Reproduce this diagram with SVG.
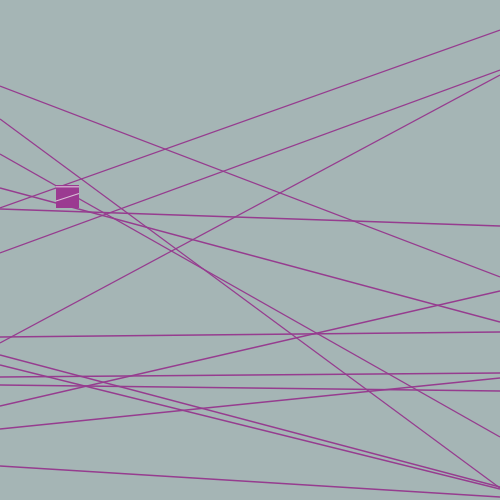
<svg xmlns="http://www.w3.org/2000/svg" width="500" height="500" viewBox="0 0 500 500">
<style>
.l{stroke:#963c8f;stroke-width:1.3;fill:none}
.hl{stroke:#d9bfd7;stroke-width:1.2}
</style>
<rect width="500" height="500" fill="#a5b5b5"/>
<g id="lines">
<line class="l" x1="0" y1="86" x2="500" y2="277"/>
<line class="l" x1="0" y1="119" x2="500" y2="488"/>
<line class="l" x1="0" y1="154" x2="500" y2="437"/>
<line class="l" x1="0" y1="188" x2="500" y2="322"/>
<line class="l" x1="0" y1="208" x2="500" y2="30"/>
<line class="l" x1="0" y1="209" x2="500" y2="226"/>
<line class="l" x1="0" y1="253" x2="500" y2="70"/>
<line class="l" x1="0" y1="343" x2="500" y2="75"/>
<line class="l" x1="0" y1="337" x2="500" y2="332"/>
<line class="l" x1="0" y1="355" x2="500" y2="487"/>
<line class="l" x1="0" y1="365" x2="500" y2="489"/>
<line class="l" x1="0" y1="377" x2="500" y2="373"/>
<line class="l" x1="0" y1="385" x2="500" y2="391"/>
<line class="l" x1="0" y1="406" x2="500" y2="291"/>
<line class="l" x1="0" y1="429" x2="500" y2="378"/>
<line class="l" x1="0" y1="466" x2="500" y2="497"/>
</g>
<g id="square">
<rect x="56" y="185" width="23" height="23" fill="#9b3a91"/>
<line class="hl" x1="56" y1="186.8" x2="79" y2="186.8"/>
<line class="hl" x1="56" y1="201" x2="79" y2="193.5"/>
</g>
</svg>
